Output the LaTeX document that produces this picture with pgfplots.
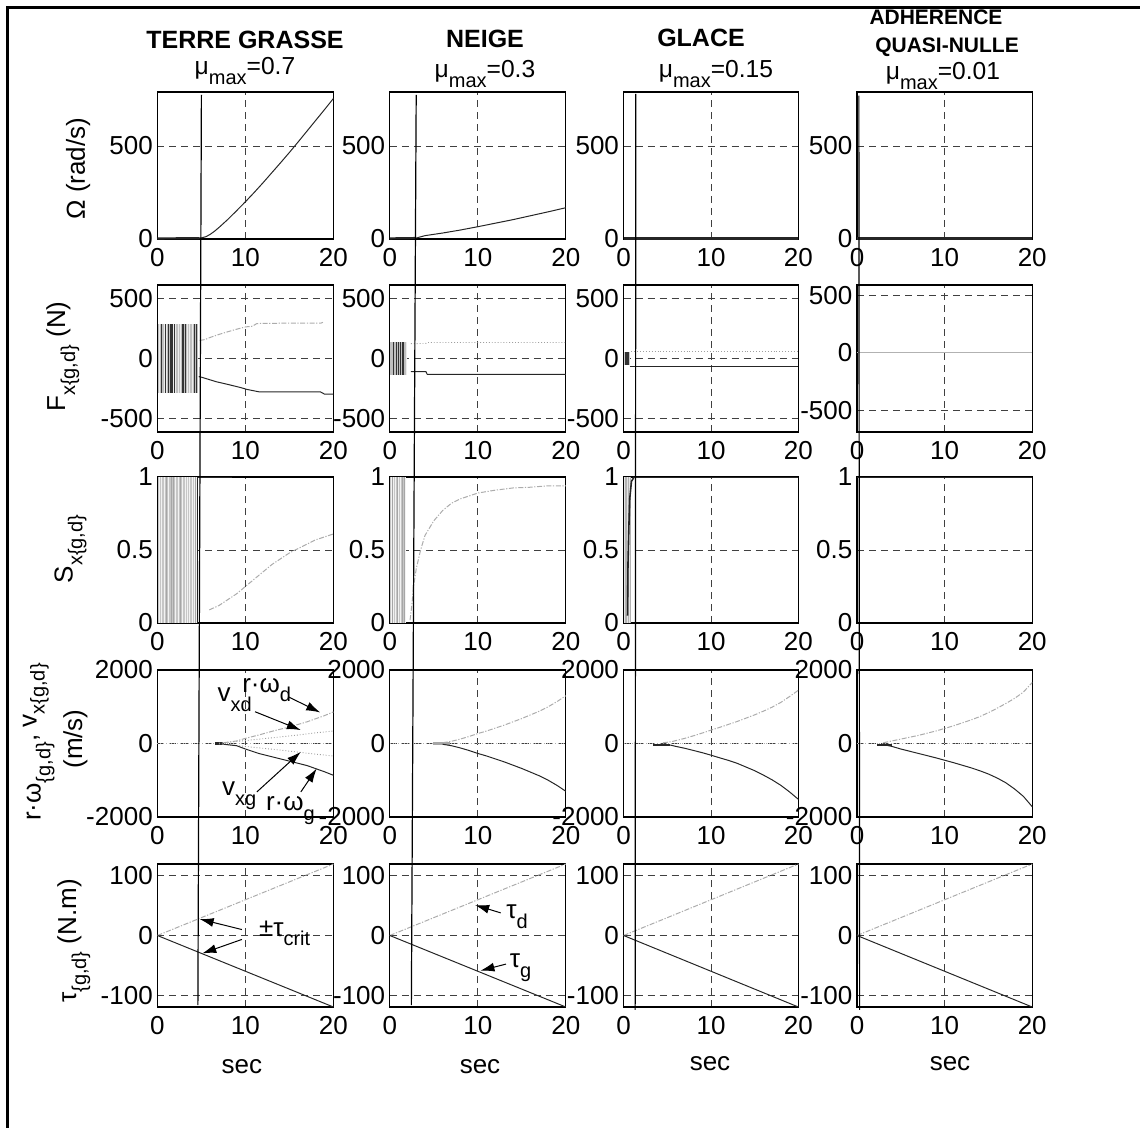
\documentclass[border=0pt]{standalone}
\usepackage{fontspec}
\setmainfont{Liberation Sans}
\usepackage{pgfplots}
\usepackage{pgfplotstable}
\pgfplotsset{compat=1.18}
\usetikzlibrary{arrows.meta}
\newcommand{\tl}{\fontsize{13}{14}\selectfont}
\newcommand{\ttl}{\fontsize{12.3}{13}\selectfont}
\newcommand{\sub}[1]{\raisebox{-0.38em}{\fontsize{10}{11}\selectfont #1}}
\tikzset{ann/.style={-{Latex[length=7pt,width=4.5pt]}, line width=0.5pt, black}}
\pgfplotsset{
  cell/.style={scale only axis, width=88pt, height=73.5pt, anchor=north west,
    xmin=0, xmax=20, xtick={0,10,20}, xticklabels={0,10,20},
    grid=major, major grid style={dash pattern=on 3.5pt off 2.5pt, line width=0.45pt, black!75},
    axis line style={line width=0.55pt, black},
    tick style={draw=none},
    ticklabel style={font=\tl},
    xticklabel style={yshift=-1.2pt},
    yticklabel style={xshift=1.2pt},
    clip=false},
  r1/.style={ymin=0, ymax=790, ytick={0,500}, yticklabels={0,500}},
  r2/.style={ymin=-610, ymax=610, ytick={-500,0,500}, yticklabels={-500,0,500}},
  r3/.style={ymin=0, ymax=1, ytick={0,0.5,1}, yticklabels={0,0.5,1}},
  r4/.style={ymin=-2000, ymax=2000, ytick={-2000,0,2000}, yticklabels={-2000,0,2000}},
  r5/.style={ymin=-120, ymax=120, ytick={-100,0,100}, yticklabels={-100,0,100}, height=71.5pt},
  up/.style={gray!65, line width=0.5pt, dash pattern=on 2.5pt off 0.8pt on 0.6pt off 0.8pt},
  lo/.style={black!85, line width=0.5pt},
  zl/.style={gray!60, line width=0.4pt, densely dotted},
  vl/.style={gray!75, line width=0.45pt, densely dotted},
  lightcomb/.style={ycomb, gray!50, line width=0.3pt},
  darkcomb/.style={ycomb, black!80, line width=0.6pt},
}
% stripes of the oscillating parts (x, +F, -F, S)
\pgfplotstableread{
x fp fn s
0.1 290 -290 1
0.2 290 -290 1
0.3 290 -290 1
0.4 290 -290 1
0.5 290 -290 1
0.6 290 -290 1
0.7 290 -290 1
0.8 290 -290 1
0.9 290 -290 1
1.0 290 -290 1
1.1 290 -290 1
1.2 290 -290 1
1.3 290 -290 1
1.4 290 -290 1
1.5 290 -290 1
1.6 290 -290 1
1.7 290 -290 1
1.8 290 -290 1
1.9 290 -290 1
2.0 290 -290 1
2.1 290 -290 1
2.2 290 -290 1
2.3 290 -290 1
2.4 290 -290 1
2.5 290 -290 1
2.6 290 -290 1
2.7 290 -290 1
2.8 290 -290 1
2.9 290 -290 1
3.0 290 -290 1
3.1 290 -290 1
3.2 290 -290 1
3.3 290 -290 1
3.4 290 -290 1
3.5 290 -290 1
3.6 290 -290 1
3.7 290 -290 1
3.8 290 -290 1
3.9 290 -290 1
4.0 290 -290 1
4.1 290 -290 1
4.2 290 -290 1
4.3 290 -290 1
4.4 290 -290 1
4.5 290 -290 1
}\combA
\pgfplotstableread{
x fp fn s
0.5 290 -290 1
0.9 290 -290 1
1.3 290 -290 1
1.45 290 -290 1
1.6 290 -290 1
1.75 290 -290 1
1.9 290 -290 1
2.85 290 -290 1
3.0 290 -290 1
3.15 290 -290 1
4.2 290 -290 1
4.4 290 -290 1
}\darkA
\pgfplotstableread{
x fp fn s
0.1 135 -135 1
0.2 135 -135 1
0.3 135 -135 1
0.4 135 -135 1
0.5 135 -135 1
0.6 135 -135 1
0.7 135 -135 1
0.8 135 -135 1
0.9 135 -135 1
1.0 135 -135 1
1.1 135 -135 1
1.2 135 -135 1
1.3 135 -135 1
1.4 135 -135 1
1.5 135 -135 1
1.6 135 -135 1
1.7 135 -135 1
1.8 135 -135 1
}\combB
\pgfplotstableread{
x fp fn s
0.4 135 -135 1
0.8 135 -135 1
1.0 135 -135 1
1.2 135 -135 1
1.5 135 -135 1
}\darkB
\begin{document}
\begin{tikzpicture}
\useasboundingbox (0pt,0pt) rectangle (570pt,-564pt);
\draw[line width=1.5pt] (3.7pt,-564pt) -- (3.7pt,-3.7pt) -- (570pt,-3.7pt);
% column titles
\node[anchor=base, inner sep=0, font=\fontsize{12.5}{14}\selectfont\bfseries] at (122.5pt,-24.5pt) {TERRE GRASSE};
\node[anchor=base, inner sep=0, font=\ttl] at (122.5pt,-37.5pt) {μ\sub{max}=0.7};
\node[anchor=base, inner sep=0, font=\fontsize{12.5}{14}\selectfont\bfseries] at (242.5pt,-24pt) {NEIGE};
\node[anchor=base, inner sep=0, font=\ttl] at (242.5pt,-39pt) {μ\sub{max}=0.3};
\node[anchor=base, inner sep=0, font=\fontsize{12.5}{14}\selectfont\bfseries] at (350.5pt,-23.5pt) {GLACE};
\node[anchor=base, inner sep=0, font=\ttl] at (358pt,-39pt) {μ\sub{max}=0.15};
\node[anchor=base, inner sep=0, font=\fontsize{10.5}{12}\selectfont\bfseries] at (468pt,-12.5pt) {ADHERENCE};
\node[anchor=base, inner sep=0, font=\fontsize{10.5}{12}\selectfont\bfseries] at (473.5pt,-26.5pt) {QUASI-NULLE};
\node[anchor=base, inner sep=0, font=\ttl] at (471.5pt,-40pt) {μ\sub{max}=0.01};
% row labels
\node[rotate=90, anchor=south, inner sep=0, font=\tl] at (45.3pt,-84.3pt) {Ω (rad/s)};
\node[rotate=90, anchor=south, inner sep=0, font=\tl] at (39.8pt,-178.3pt) {F\sub{x\{g,d\}} (N)};
\node[rotate=90, anchor=south, inner sep=0, font=\tl] at (43.5pt,-274.5pt) {S\sub{x\{g,d\}}};
\node[rotate=90, anchor=south, inner sep=0, font=\tl] at (27.5pt,-371pt) {r·ω\sub{\{g,d\}}\raisebox{2pt}{, v}\raisebox{-2pt}{\fontsize{10}{11}\selectfont x\{g,d\}}};
\node[rotate=90, anchor=south, inner sep=0, font=\tl] at (44pt,-369.5pt) {(m/s)};
\node[rotate=90, anchor=south, inner sep=0, font=\tl] at (45.3pt,-470.5pt) {τ\sub{\{g,d\}} (N.m)};
% sec labels
\node[anchor=base, inner sep=0, font=\tl] at (120.9pt,-536.5pt) {sec};
\node[anchor=base, inner sep=0, font=\tl] at (240pt,-536.5pt) {sec};
\node[anchor=base, inner sep=0, font=\tl] at (355pt,-535pt) {sec};
\node[anchor=base, inner sep=0, font=\tl] at (475pt,-535pt) {sec};

% ================= ROW 1 : Omega
\begin{axis}[cell, r1, at={(78.7pt,-46pt)}]
\addplot[lo, line width=1.1pt] coordinates {(0,3)(4.8,4)};
\addplot[lo] coordinates {(4.8,4)(5.5,12)(6,25)(6.5,42)(7,62)(8,105)(9,152)(10,200)(11,250)(12,302)(13,356)(14,410)(15,465)(16,522)(17,580)(18,638)(19,696)(20,755)};
\coordinate (t1) at (axis cs:5.0,775);
\end{axis}
\begin{axis}[cell, r1, at={(194.9pt,-46pt)}]
\addplot[lo, line width=1.1pt] coordinates {(0,3)(3,5)};
\addplot[lo] coordinates {(3,5)(4,18)(6,32)(8,48)(10,66)(12,85)(14,104)(16,125)(18,146)(20,168)};
\coordinate (t2) at (axis cs:3.0,775);
\end{axis}
\begin{axis}[cell, r1, at={(311.8pt,-46pt)}, width=87.4pt]
\addplot[lo, line width=1.1pt] coordinates {(0,3)(20,3)};
\coordinate (t3) at (axis cs:1.4,780);
\end{axis}
\begin{axis}[cell, r1, at={(428.5pt,-46pt)}, width=87.6pt]
\addplot[lo, line width=1.1pt] coordinates {(0,3)(20,3)};
\coordinate (t4) at (axis cs:0.21,770);
\end{axis}

% ================= ROW 2 : Fx
\begin{axis}[cell, r2, at={(78.7pt,-142.5pt)}]
\addplot[fill=gray!15, draw=none] coordinates {(0.05,-290)(0.05,290)(4.6,290)(4.6,-290)};
\addplot[lightcomb, each nth point=2] table[x=x,y=fp] {\combA};
\addplot[lightcomb, each nth point=2] table[x=x,y=fn] {\combA};
\addplot[darkcomb] table[x=x,y=fp] {\darkA};
\addplot[darkcomb] table[x=x,y=fn] {\darkA};
\addplot[up] coordinates {(4.8,150)(5.4,157)(6,175)(7,200)(8,222)(9,243)(10,262)(10.8,268)(11.3,290)(12,292)(18.6,294)(18.8,300)};
\addplot[lo] coordinates {(4.7,-150)(5,-155)(6.7,-193)(8,-215)(9.4,-240)(10.2,-257)(11.5,-276)(18.5,-276)(19,-296)(20,-296)};
\end{axis}
\begin{axis}[cell, r2, at={(194.9pt,-142.5pt)}]
\addplot[fill=gray!15, draw=none] coordinates {(0.05,-135)(0.05,135)(1.9,135)(1.9,-135)};
\addplot[lightcomb] table[x=x,y=fp] {\combB};
\addplot[lightcomb] table[x=x,y=fn] {\combB};
\addplot[darkcomb] table[x=x,y=fp] {\darkB};
\addplot[darkcomb] table[x=x,y=fn] {\darkB};
\addplot[vl] coordinates {(2.4,123)(4.1,125)(4.25,133)(20,133)};
\addplot[lo] coordinates {(2.4,-109)(4.1,-109)(4.25,-131)(20,-131)};
\end{axis}
\begin{axis}[cell, r2, at={(311.8pt,-142.5pt)}, width=87.4pt]
\addplot[fill=gray!40, draw=none] coordinates {(0.05,-50)(0.05,50)(0.7,50)(0.7,-50)};
\addplot[darkcomb] coordinates {(0.2,55)(0.35,55)(0.5,55)};
\addplot[darkcomb] coordinates {(0.2,-55)(0.35,-55)(0.5,-55)};
\addplot[vl] coordinates {(0.9,60)(20,60)};
\addplot[lo] coordinates {(0.7,-63)(20,-63)};
\end{axis}
\begin{axis}[cell, r2, at={(428.5pt,-142.5pt)}, width=87.6pt, ymin=-690, ymax=590]
\addplot[gray!60, line width=0.6pt] coordinates {(0,0)(20,0)};
\end{axis}

% ================= ROW 3 : Sx
\begin{axis}[cell, r3, at={(78.7pt,-238.5pt)}, height=73pt]
\addplot[fill=gray!10, draw=none] coordinates {(0.05,0)(0.05,1)(4.6,1)(4.6,0)};
\addplot[lightcomb, gray!45, each nth point=2] table[x=x,y=s] {\combA};
\addplot[darkcomb, gray!70, line width=0.45pt] coordinates {(1.0,1)(1.6,1)(1.8,1)(2.6,1)(4.3,1)(4.5,1)};
\addplot[lo] coordinates {(4.6,0)(4.6,1)(8.5,1)};
\addplot[up] coordinates {(5.9,0.09)(7,0.12)(8,0.16)(9,0.2)(10,0.25)(11,0.3)(12,0.35)(13,0.4)(14,0.44)(15,0.48)(16,0.51)(17,0.54)(18,0.57)(19,0.59)(20,0.61)};
\end{axis}
\begin{axis}[cell, r3, at={(194.9pt,-238.5pt)}, height=73pt]
\addplot[fill=gray!10, draw=none] coordinates {(0.05,0)(0.05,1)(1.85,1)(1.85,0)};
\addplot[lightcomb, gray!45, each nth point=2] table[x=x,y=s] {\combB};
\addplot[darkcomb, gray!70, line width=0.45pt] coordinates {(0.3,1)(0.9,1)(1.4,1)(1.7,1)};
\addplot[up] coordinates {(2.3,0.02)(2.5,0.12)(2.7,0.25)(3,0.37)(3.5,0.5)(4,0.6)(5,0.7)(6,0.77)(7,0.82)(8,0.85)(9,0.87)(10,0.89)(11,0.9)(12,0.91)(14,0.925)(16,0.93)(18,0.94)(20,0.94)};
\end{axis}
\begin{axis}[cell, r3, at={(311.8pt,-238.5pt)}, width=87.4pt, height=73pt]
\addplot[fill=gray!20, draw=none] coordinates {(0.1,0)(0.1,1)(0.9,1)(0.9,0)};
\addplot[darkcomb, gray!60, line width=0.4pt] coordinates {(0.2,1)(0.3,1)(0.55,1)(0.75,1)};
\addplot[lo, line width=0.8pt] coordinates {(0.45,0.05)(0.5,0.4)(0.6,0.65)(0.7,0.85)(0.9,0.97)(1.2,1)};
\addplot[lo] coordinates {(1.2,1)(20,1)};
\end{axis}
\begin{axis}[cell, r3, at={(428.5pt,-238.5pt)}, width=87.6pt, height=73pt]
\addplot[lo] coordinates {(0,1)(20,1)};
\end{axis}

% ================= ROW 4 : r.omega, vx
\begin{axis}[cell, r4, at={(78.7pt,-335pt)}]
\addplot[zl] coordinates {(0,0)(20,0)};
\addplot[lo, line width=1.2pt] coordinates {(6.6,0)(7.4,0)};
\addplot[up] coordinates {(7.5,20)(9,70)(10,140)(11.5,230)(13,330)(15,450)(17,590)(19,760)(20,860)};
\addplot[vl] coordinates {(7,10)(8,30)(10,80)(12,130)(14,180)(16,230)(18,290)(20,340)};
\addplot[vl] coordinates {(7,-10)(8,-30)(10,-80)(12,-130)(14,-180)(16,-235)(18,-290)(20,-340)};
\addplot[lo] coordinates {(7.5,-20)(9,-60)(10,-150)(11.5,-270)(13,-360)(15,-480)(17,-600)(19,-770)(20,-865)};
\node[anchor=base west, inner sep=0, font=\tl] at (axis cs:9.6,1400) {r·ω\sub{d}};
\node[anchor=base west, inner sep=0, font=\tl] at (axis cs:6.8,1130) {v\sub{xd}};
\node[anchor=base west, inner sep=0, font=\tl] at (axis cs:7.3,-1410) {v\sub{xg}};
\node[anchor=base west, inner sep=0, font=\tl] at (axis cs:12.3,-1820) {r·ω\sub{g}};
\draw[ann] (axis cs:14.85,1273) -- (axis cs:18.5,845);
\draw[ann] (axis cs:11.1,864) -- (axis cs:16.3,364);
\draw[ann] (axis cs:11.3,-1318) -- (axis cs:16.3,-227);
\draw[ann] (axis cs:16.3,-1318) -- (axis cs:18.1,-682);
\end{axis}
\begin{axis}[cell, r4, at={(194.9pt,-335pt)}]
\addplot[zl] coordinates {(0,0)(20,0)};
\addplot[gray!70, line width=1.5pt] coordinates {(4.9,0)(6.8,0)};
\addplot[up] coordinates {(6,20)(7,60)(8,120)(9,190)(10,270)(11,340)(12,420)(13,500)(14,590)(15,680)(16,780)(17,880)(18,1000)(19,1140)(20,1300)};
\addplot[lo] coordinates {(6,-20)(7,-60)(8,-120)(9,-190)(10,-270)(11,-340)(12,-420)(13,-500)(14,-590)(15,-680)(16,-780)(17,-880)(18,-1000)(19,-1140)(20,-1300)};
\end{axis}
\begin{axis}[cell, r4, at={(311.8pt,-335pt)}, width=87.4pt]
\addplot[zl] coordinates {(0,0)(20,0)};
\addplot[lo, line width=0.8pt] coordinates {(3.5,0)(3.5,-40)(5.3,-40)};
\addplot[up] coordinates {(4.5,20)(5.4,45)(6,80)(7,140)(8,210)(9,285)(10,364)(11,440)(12,520)(13,600)(14,690)(15,780)(16,880)(17,990)(18,1120)(19,1280)(20,1450)};
\addplot[lo] coordinates {(4.5,-20)(5.4,-45)(6,-80)(7,-130)(8,-190)(9,-250)(10,-318)(11,-390)(12,-460)(13,-540)(14,-640)(15,-740)(16,-860)(17,-990)(18,-1140)(19,-1320)(20,-1520)};
\end{axis}
\begin{axis}[cell, r4, at={(428.5pt,-335pt)}, width=87.6pt]
\addplot[zl] coordinates {(0,0)(20,0)};
\addplot[lo, line width=0.8pt] coordinates {(2.4,0)(2.4,-35)(4,-35)};
\addplot[up] coordinates {(3,20)(4,70)(5,120)(6,170)(7,220)(8,280)(9,340)(10,409)(11,480)(12,560)(13,640)(14,730)(15,840)(16,960)(17,1090)(18,1230)(19,1400)(20,1660)};
\addplot[lo] coordinates {(3,-30)(4,-80)(5,-150)(6,-210)(7,-270)(8,-330)(9,-390)(10,-455)(11,-520)(12,-590)(13,-660)(14,-740)(15,-830)(16,-940)(17,-1070)(18,-1240)(19,-1440)(20,-1720)};
\end{axis}

% ================= ROW 5 : tau
\begin{axis}[cell, r5, at={(78.7pt,-432pt)}]
\addplot[up] coordinates {(0,0)(20,120)};
\addplot[lo] coordinates {(0,0)(20,-120)};
\node[anchor=base west, inner sep=0, font=\tl] at (axis cs:11.5,-1) {±τ\sub{crit}};
\draw[ann] (axis cs:9.6,10) -- (axis cs:4.8,27.6);
\draw[ann] (axis cs:9.6,-6.6) -- (axis cs:5.1,-30);
\coordinate (b1) at (axis cs:4.6,-117);
\end{axis}
\begin{axis}[cell, r5, at={(194.9pt,-432pt)}]
\addplot[up] coordinates {(0,0)(20,120)};
\addplot[lo] coordinates {(0,0)(20,-120)};
\node[anchor=base west, inner sep=0, font=\tl] at (axis cs:13.2,28) {τ\sub{d}};
\node[anchor=base west, inner sep=0, font=\tl] at (axis cs:13.6,-54) {τ\sub{g}};
\draw[ann] (axis cs:12.6,38) -- (axis cs:9.7,51);
\draw[ann] (axis cs:13.2,-48) -- (axis cs:10.3,-59);
\coordinate (b2) at (axis cs:2.45,-117);
\end{axis}
\begin{axis}[cell, r5, at={(311.8pt,-432pt)}, width=87.4pt]
\addplot[up] coordinates {(0,0)(20,120)};
\addplot[lo] coordinates {(0,0)(20,-120)};
\coordinate (b3) at (axis cs:1.32,-125);
\end{axis}
\begin{axis}[cell, r5, at={(428.5pt,-432pt)}, width=87.6pt]
\addplot[up] coordinates {(0,0)(20,120)};
\addplot[lo] coordinates {(0,0)(20,-120)};
\coordinate (b4) at (axis cs:0.3,-125);
\end{axis}

% long vertical markers through all rows
\draw[line width=0.6pt] (t1) -- (b1);
\draw[line width=0.6pt] (t2) -- (b2);
\draw[line width=0.6pt] (t3) -- (b3);
\draw[line width=0.6pt] (t4) -- (b4);
\end{tikzpicture}
\end{document}
